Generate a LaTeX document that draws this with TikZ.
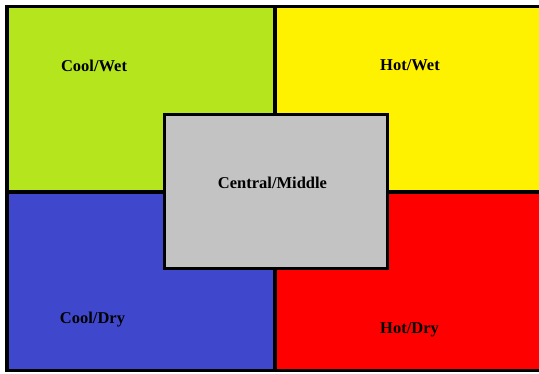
\documentclass[tikz,border=0pt]{standalone}
\usepackage{fontspec}
\setmainfont{Liberation Serif}
\definecolor{qgreen}{RGB}{181,230,29}
\definecolor{qyellow}{RGB}{255,242,0}
\definecolor{qblue}{RGB}{63,72,204}
\definecolor{qred}{RGB}{255,0,0}
\definecolor{qgray}{RGB}{195,195,195}
\tikzset{
  quad/.style={draw=black, line width=3.5pt, inner sep=0pt, outer sep=0pt, anchor=north west, rectangle},
  lbl/.style={font=\fontsize{16.5}{18}\selectfont\bfseries, text=black, anchor=base, inner sep=0pt}
}
\begin{document}
\begin{tikzpicture}[x=1pt,y=-1pt]
\fill[white] (0,0) rectangle (539,374);
\useasboundingbox (0,0) rectangle (539,374);
\clip (0,0) rectangle (539,374);
\node[quad, fill=qgreen, minimum width=268pt, minimum height=185.5pt] (cw) at (7,6.5) {};
\node[quad, fill=qyellow, minimum width=275pt, minimum height=185.5pt] (hw) at (275,6.5) {};
\node[quad, fill=qblue, minimum width=268pt, minimum height=178.5pt] (cd) at (7,192) {};
\node[quad, fill=qred, minimum width=275pt, minimum height=178.5pt] (hd) at (275,192) {};
\node[quad, fill=qgray, minimum width=223pt, minimum height=154pt] (cm) at (164.5,114.5) {};
\node[lbl] (tcw) at (94,71.5) {Cool/Wet};
\node[lbl] (thw) at (410,70.5) {Hot/Wet};
\node[lbl] (tcd) at (92.5,323.5) {Cool/Dry};
\node[lbl] (thd) at (409.5,333.5) {Hot/Dry};
\node[lbl] (tcm) at (272.5,188.5) {Central/Middle};
\end{tikzpicture}
\end{document}
